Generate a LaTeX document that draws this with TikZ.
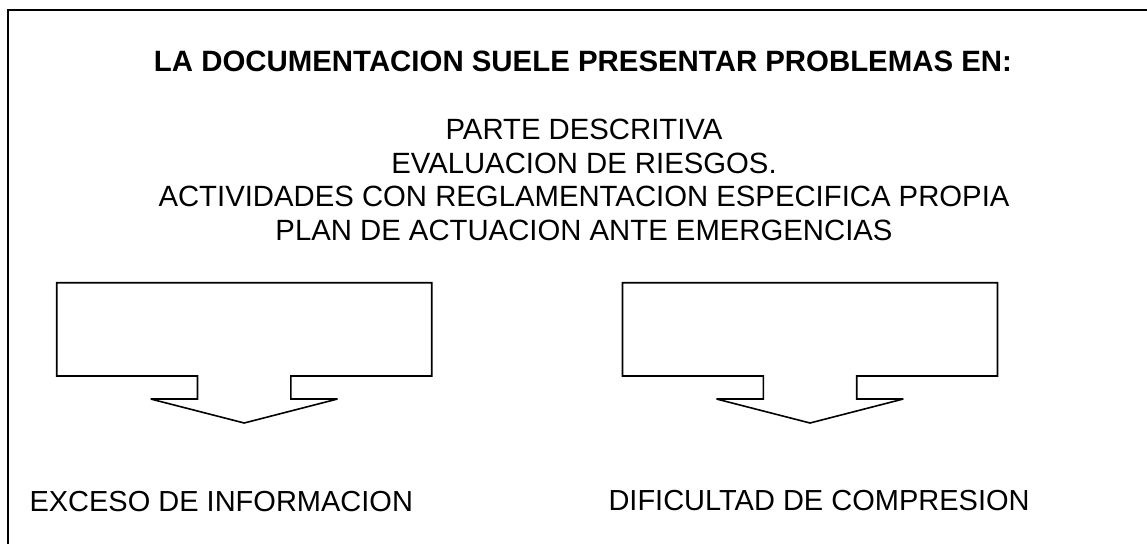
\documentclass[tikz,border=0pt]{standalone}
\usepackage{fontspec}
\setmainfont{Liberation Sans}
\begin{document}
\begin{tikzpicture}[x=1pt,y=-1pt,
  frameline/.style={line width=2pt},
  calloutline/.style={line width=1.6pt,line join=miter,miter limit=2},
  txt/.style={inner sep=0pt,anchor=base,font=\fontsize{29.3}{34}\selectfont},
  boldtxt/.style={txt,font=\fontsize{29.4}{34}\selectfont\bfseries},
  bottxt/.style={inner sep=0pt,font=\fontsize{29}{34}\selectfont},
  callout/.pic={
    \draw[calloutline] (-187.5,282.7) -- (187.5,282.7) -- (187.5,376)
      -- (46.7,376) -- (46.7,399) -- (93.3,399) -- (0,423) -- (-93.5,399)
      -- (-46.7,399) -- (-46.7,376) -- (-187.5,376) -- cycle;
  }]
\useasboundingbox (0,0) rectangle (1147,543);
\draw[frameline] (1150,10) -- (8,10) -- (8,546);
\node[boldtxt] (title) at (583,71.3) {LA DOCUMENTACION SUELE PRESENTAR PROBLEMAS EN:};
\node[txt] (l1) at (584,139) {PARTE DESCRITIVA};
\node[txt] (l2) at (584,173) {EVALUACION DE RIESGOS.};
\node[txt] (l3) at (584,206.7) {ACTIVIDADES CON REGLAMENTACION ESPECIFICA PROPIA};
\node[txt] (l4) at (584,240) {PLAN DE ACTUACION ANTE EMERGENCIAS};
\pic (cl) at (244.2,0) {callout};
\pic (cr) at (810,0) {callout};
\node[bottxt,anchor=base west] (exceso) at (29.3,511.5) {EXCESO DE INFORMACION};
\node[bottxt,anchor=base west] (dific) at (608.3,510.5) {DIFICULTAD DE COMPRESION};
\end{tikzpicture}
\end{document}
